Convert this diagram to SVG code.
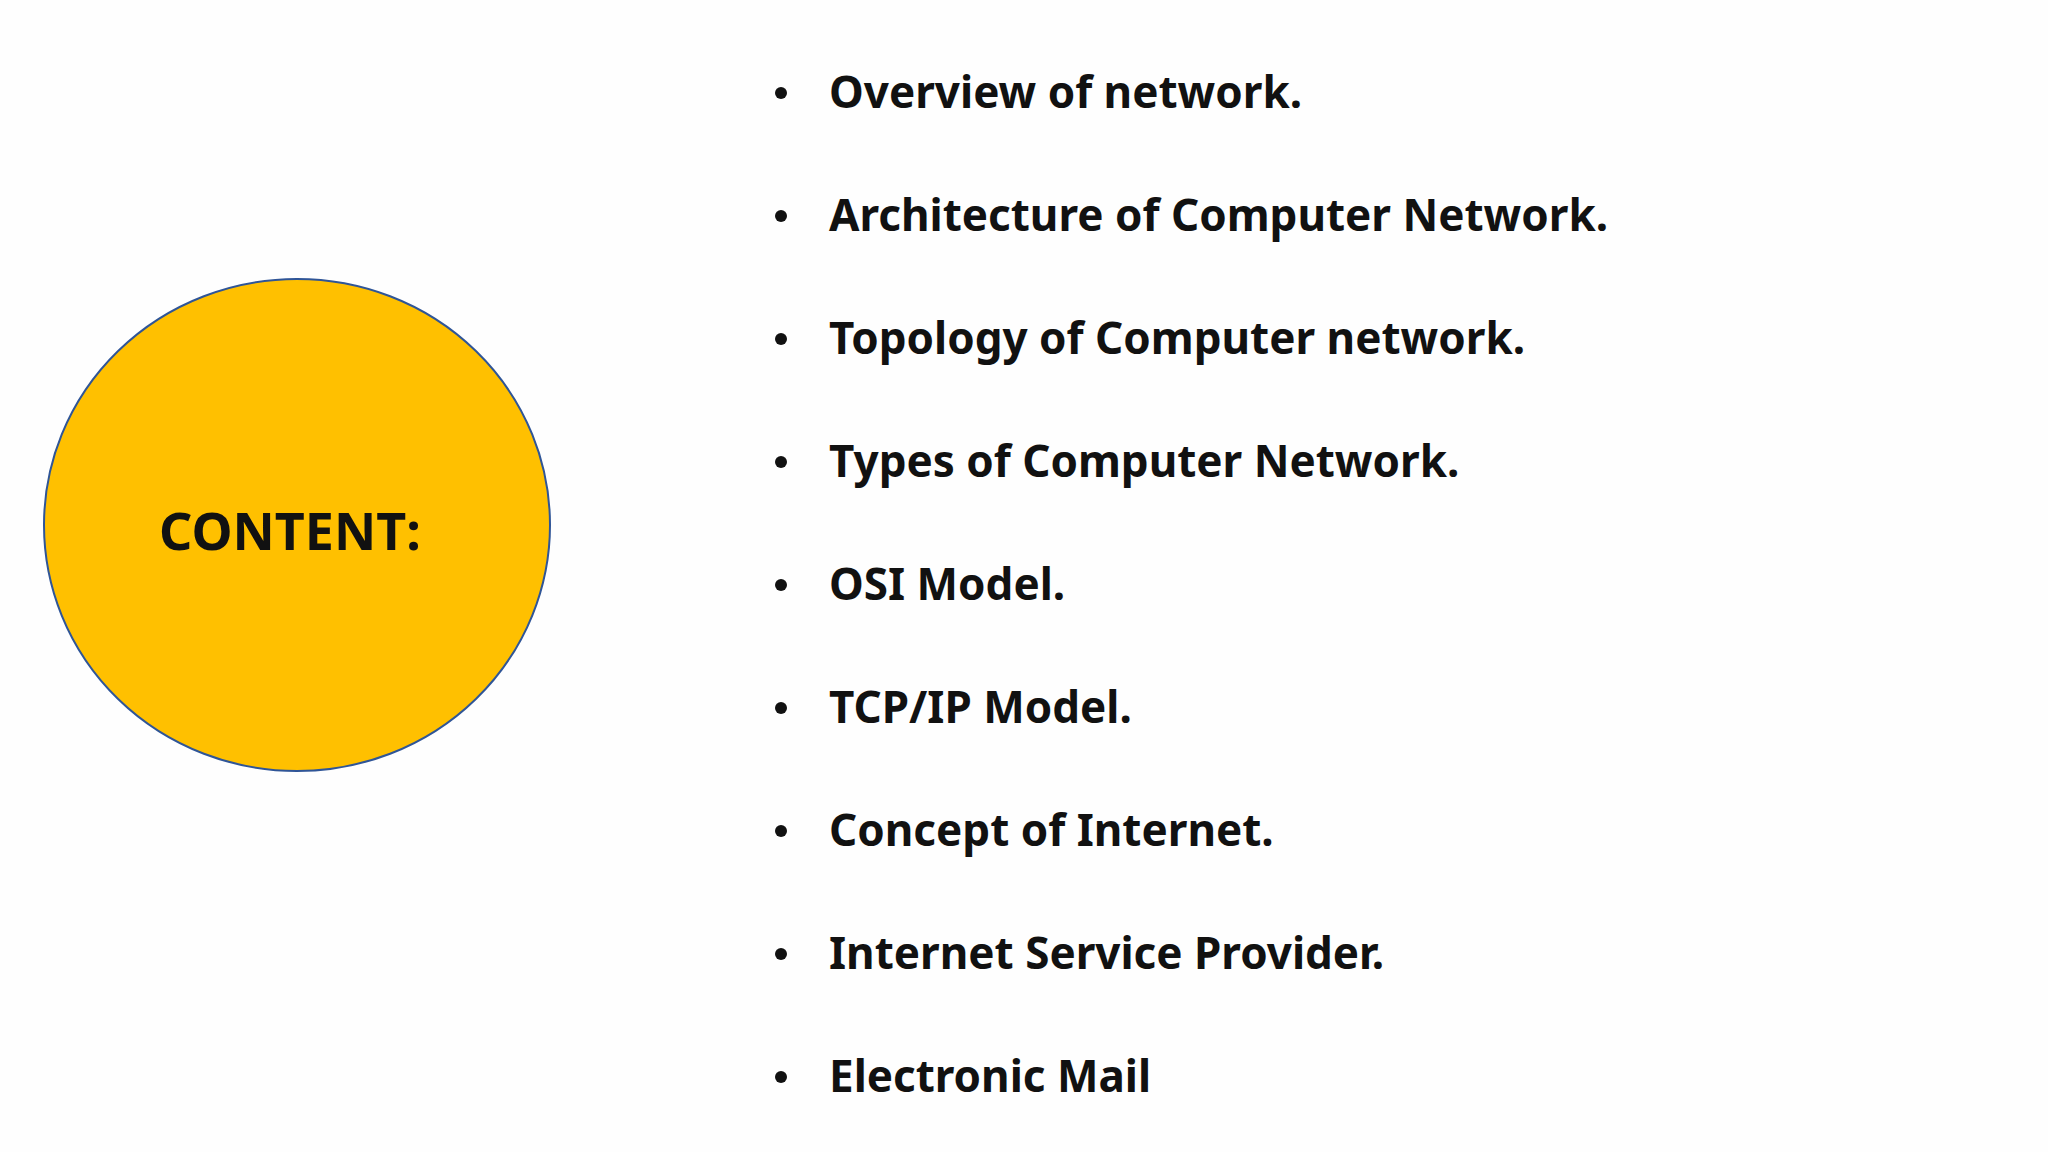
<svg xmlns="http://www.w3.org/2000/svg" width="2048" height="1152" viewBox="0 0 2048 1152">
<style>
.t{font-family:"Noto Sans","Liberation Sans",sans-serif;font-weight:bold;font-size:44px;fill:#111}
.b{fill:#111}
</style>
<rect width="2048" height="1152" fill="#fefefe"/>
<g id="content">
<ellipse cx="297" cy="525" rx="253" ry="246" fill="#ffc000" stroke="#2f5597" stroke-width="2"/>
<text x="290" y="550" text-anchor="middle" class="t" style="font-size:52px">CONTENT:</text>
</g>
<g id="list">
<g class="b"><circle cx="781" cy="93" r="6"/><circle cx="781" cy="216" r="6"/><circle cx="781" cy="339" r="6"/><circle cx="781" cy="462" r="6"/><circle cx="781" cy="585" r="6"/><circle cx="781" cy="708" r="6"/><circle cx="781" cy="831" r="6"/><circle cx="781" cy="954" r="6"/><circle cx="781" cy="1077" r="6"/></g>
<text class="t" x="829" y="108">Overview of network.</text>
<text class="t" x="829" y="231">Architecture of Computer Network.</text>
<text class="t" x="829" y="354">Topology of Computer network.</text>
<text class="t" x="829" y="477">Types of Computer Network.</text>
<text class="t" x="829" y="600">OSI Model.</text>
<text class="t" x="829" y="723">TCP/IP Model.</text>
<text class="t" x="829" y="846">Concept of Internet.</text>
<text class="t" x="829" y="969">Internet Service Provider.</text>
<text class="t" x="829" y="1092">Electronic Mail</text>
</g>
</svg>
